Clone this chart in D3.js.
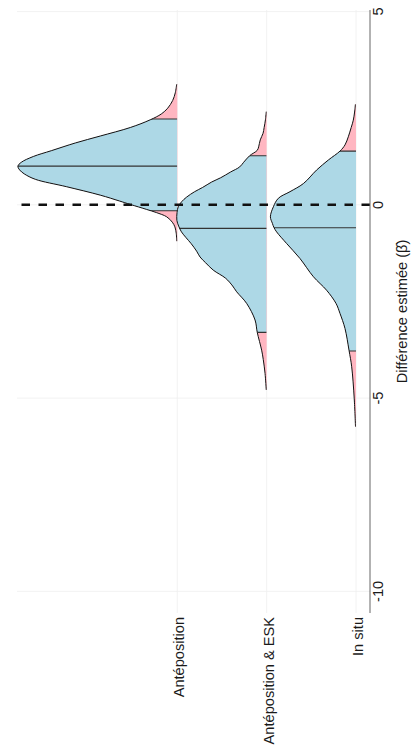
<!DOCTYPE html>
<html>
<head>
<meta charset="utf-8">
<script src="https://cdn.jsdelivr.net/npm/d3@7"></script>
<style>
  html, body { margin: 0; padding: 0; background: #fff; }
  svg { display: block; }
  text { font-family: "Liberation Sans", Arial, sans-serif; }
</style>
</head>
<body>
<svg id="chart" width="415" height="749"></svg>
<script>
// ---------- data ----------
const categories = ["Antéposition", "Antéposition & ESK", "In situ"];
const valueTicks = [5, 0, -5, -10];
const axisTitle = "Différence estimée (β\u0302)";

// density curves: [estimated difference, density]
const densAnte = [[3.12,0.003],[2.9,0.010],[2.7,0.023],[2.5,0.048],[2.35,0.080],[2.2,0.135],[2.0,0.235],[1.78,0.385],[1.6,0.51],[1.4,0.63],[1.25,0.72],[1.1,0.78],[1.0,0.797],[0.9,0.788],[0.8,0.765],[0.66,0.71],[0.47,0.555],[0.25,0.385],[0.1,0.29],[0.01,0.235],[-0.12,0.153],[-0.2,0.105],[-0.31,0.053],[-0.45,0.025],[-0.57,0.012],[-0.75,0.005],[-0.94,0.003]];
const densEsk = [[2.41,0.002],[2.2,0.006],[2.0,0.0125],[1.85,0.018],[1.68,0.032],[1.5,0.040],[1.41,0.047],[1.27,0.085],[1.1,0.115],[0.98,0.135],[0.85,0.18],[0.7,0.23],[0.59,0.275],[0.45,0.32],[0.34,0.36],[0.2,0.40],[0.08,0.425],[-0.05,0.442],[-0.2,0.448],[-0.4,0.449],[-0.55,0.440],[-0.7,0.426],[-0.85,0.403],[-1.0,0.378],[-1.2,0.35],[-1.35,0.333],[-1.5,0.305],[-1.69,0.267],[-1.9,0.205],[-2.1,0.17],[-2.25,0.15],[-2.55,0.10],[-2.98,0.058],[-3.3,0.047],[-3.76,0.025],[-4.0,0.017],[-4.36,0.008],[-4.79,0.002]];
const densSitu = [[2.60,0.003],[2.4,0.007],[2.19,0.0135],[2.0,0.024],[1.76,0.0385],[1.55,0.055],[1.39,0.08],[1.16,0.138],[0.9,0.197],[0.55,0.263],[0.34,0.33],[0.17,0.388],[-0.05,0.413],[-0.31,0.428],[-0.48,0.418],[-0.59,0.41],[-0.7,0.397],[-1.0,0.347],[-1.39,0.28],[-1.86,0.213],[-2.21,0.147],[-2.55,0.10],[-2.81,0.08],[-3.2,0.055],[-3.76,0.035],[-4.19,0.0215],[-5.0,0.009],[-5.74,0.0025]];
const densities = [densAnte, densEsk, densSitu];

const quantLow = [-0.155, -3.30, -3.78];
const medians = [1.0, -0.61, -0.595];
const quantHigh = [2.22, 1.27, 1.39];

// ---------- layout ----------
const svg = d3.select("#chart");
const panel = { left: 17, right: 370, top: 10, bottom: 613 };

const yScale = d3.scaleLinear().domain([-10.56, 5.04]).range([panel.bottom, panel.top]);
const xScale = d3.scalePoint().domain(categories).range([177.3, 356]);
const dScale = d3.scaleLinear().domain([0, 1]).range([0, 200]);

// gridlines
svg.append("g").selectAll("line").data(valueTicks).join("line")
  .attr("x1", panel.left).attr("x2", panel.right)
  .attr("y1", d => yScale(d)).attr("y2", d => yScale(d))
  .attr("stroke", "#efefef").attr("stroke-width", 0.8);
svg.append("g").selectAll("line").data(categories).join("line")
  .attr("x1", d => xScale(d)).attr("x2", d => xScale(d))
  .attr("y1", panel.top).attr("y2", panel.bottom)
  .attr("stroke", "#efefef").attr("stroke-width", 0.8);

const curve = d3.curveCatmullRom.alpha(0.5);
const defs = svg.append("defs");

categories.forEach((cat, i) => {
  const base = xScale(cat);
  const data = densities[i];
  const area = d3.area().curve(curve)
    .y(d => yScale(d[0]))
    .x0(base)
    .x1(d => base - dScale(d[1]));
  const line = d3.line().curve(curve)
    .y(d => yScale(d[0]))
    .x(d => base - dScale(d[1]));

  defs.append("clipPath").attr("id", "clip" + i)
    .append("path").attr("d", area(data));

  const g = svg.append("g");
  g.append("path").attr("d", area(data)).attr("fill", "#FFB6C1");
  const gc = g.append("g").attr("clip-path", `url(#clip${i})`);
  gc.append("rect")
    .attr("x", panel.left).attr("width", base - panel.left)
    .attr("y", yScale(quantHigh[i]))
    .attr("height", yScale(quantLow[i]) - yScale(quantHigh[i]))
    .attr("fill", "#ADD8E6");
  gc.selectAll("line").data([quantLow[i], medians[i], quantHigh[i]]).join("line")
    .attr("x1", panel.left).attr("x2", base)
    .attr("y1", d => yScale(d)).attr("y2", d => yScale(d))
    .attr("stroke", "#333").attr("stroke-width", 1.1);
  g.append("path").attr("d", line(data))
    .attr("fill", "none").attr("stroke", "#111").attr("stroke-width", 1);
});

// dashed zero line
svg.append("line")
  .attr("x1", panel.right).attr("x2", panel.left)
  .attr("y1", yScale(0)).attr("y2", yScale(0))
  .attr("stroke", "#111").attr("stroke-width", 2.4)
  .attr("stroke-dasharray", "8.5,8.5");

// axis line
svg.append("line")
  .attr("x1", panel.right).attr("x2", panel.right)
  .attr("y1", panel.top).attr("y2", panel.bottom)
  .attr("stroke", "#666").attr("stroke-width", 1);

// tick labels
svg.append("g").selectAll("text").data(valueTicks).join("text")
  .attr("transform", d => `translate(383,${yScale(d)}) rotate(-90)`)
  .attr("text-anchor", "middle")
  .attr("font-size", 14.6).attr("fill", "#1a1a1a")
  .text(d => String(d));

// category labels
svg.append("g").selectAll("text").data(categories).join("text")
  .attr("transform", d => `translate(${xScale(d)},${panel.bottom + 4}) rotate(-90)`)
  .attr("text-anchor", "end")
  .attr("dy", 7)
  .attr("font-size", 14.6).attr("fill", "#1a1a1a")
  .text(d => d);

// axis title
svg.append("text")
  .attr("transform", `translate(407,${(panel.top + panel.bottom) / 2}) rotate(-90)`)
  .attr("text-anchor", "middle")
  .attr("font-size", 14.6).attr("fill", "#1a1a1a")
  .text(axisTitle);
</script>
</body>
</html>
